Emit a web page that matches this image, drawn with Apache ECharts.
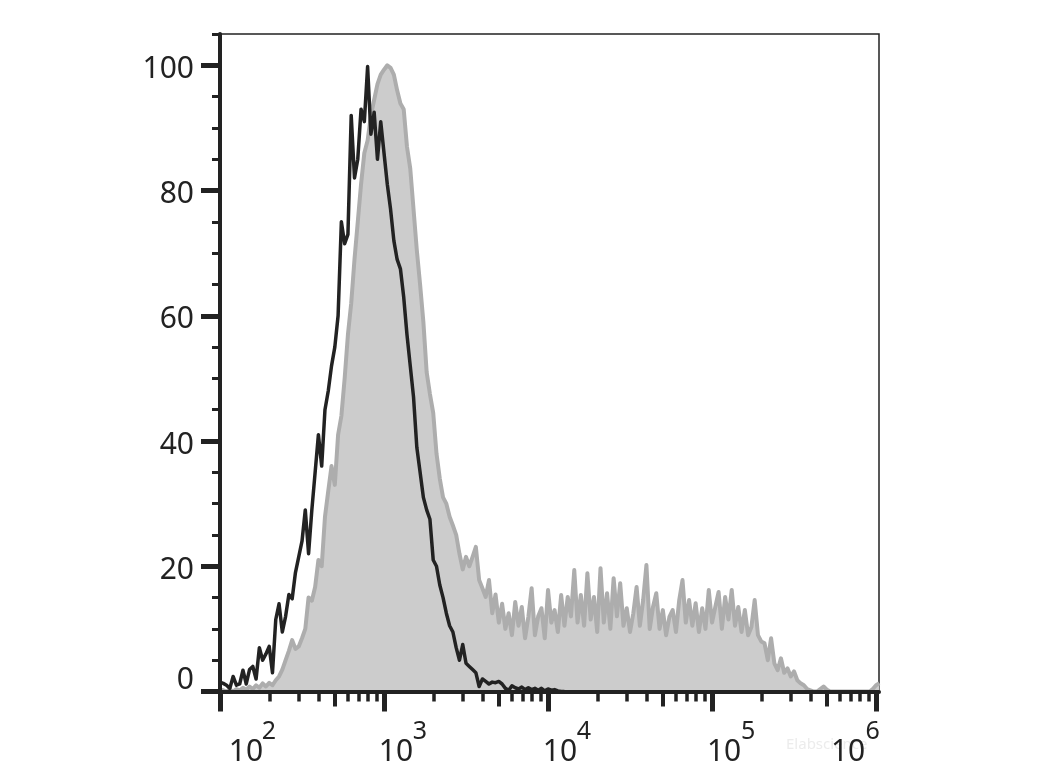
<!DOCTYPE html>
<html>
<head>
<meta charset="utf-8">
<script src="https://cdn.jsdelivr.net/npm/echarts@6/dist/echarts.min.js"></script>
<style>
html,body{margin:0;padding:0;background:#ffffff;}
#c{width:1040px;height:780px;}
</style>
</head>
<body>
<div id="c"></div>
<script>
// ---- data ----
// histogram bins on a log10 fluorescence scale, 0.02 decade wide, starting at 10^2
const binCount = 202;
const binExponents = Array.from({length: binCount}, (_, i) => +(2 + i * 0.02).toFixed(2));

// grey filled histogram (stained sample), % of max
const stainedValues = [
  0.3,0.2,0.0,0.3,0.0,0.4,0.2,0.6,0.3,0.8,
  0.4,1.0,0.6,1.3,0.8,1.4,1.0,1.8,2.4,3.5,
  5.0,6.5,8.2,6.8,7.2,8.5,10.0,15.0,14.5,16.7,
  21.0,20.0,27.9,32.0,36.0,33.0,41.0,44.0,50.0,57.0,
  62.0,69.0,75.0,81.0,86.0,88.0,92.0,94.5,97.0,98.5,
  99.3,100,99.6,98.5,96.0,93.9,93.0,87.0,83.5,77.0,
  70.5,65.0,59.0,51.0,47.5,44.5,38.0,34.0,31.0,30.0,
  27.9,26.5,25.0,22.0,19.5,21.5,20.0,21.5,23.1,17.8,
  16.5,15.1,17.8,12.5,15.5,11.0,14.0,10.0,12.5,9.0,
  14.3,10.5,13.5,8.5,11.9,16.5,9.0,12.0,13.3,8.5,
  16.2,11.0,13.0,9.5,15.4,10.5,15.1,12.0,19.4,11.0,
  15.4,10.5,18.9,11.5,15.1,9.5,19.7,11.0,15.7,10.0,
  18.1,12.0,17.3,10.5,13.3,9.5,12.5,16.7,10.5,14.6,
  20.2,10.0,13.5,15.7,10.0,13.0,9.0,11.9,13.0,9.5,
  14.6,17.8,11.0,14.6,10.5,14.1,9.5,13.3,10.0,16.2,
  11.0,13.5,15.9,10.0,15.1,11.5,16.2,10.5,13.5,9.5,
  13.0,9.0,10.3,14.6,9.0,8.0,7.7,5.0,8.5,4.5,
  3.4,5.3,3.0,3.7,2.4,3.2,1.8,1.3,1.0,0.4,
  0.2,0.0,0.0,0.4,0.8,0.3,0.0,0.0,0.0,0.0,
  0.0,0.0,0.0,0.0,0.0,0.0,0.0,0.0,0.0,0.4,
  1.0,1.3
];

// black outline histogram (control), % of max
const controlValues = [
  1.5,1.3,1.0,0.5,2.4,1.0,1.2,3.4,1.2,3.5,
  4.0,2.0,7.0,5.0,6.0,7.2,3.0,11.5,14.0,9.5,
  12.0,15.5,14.8,19.0,21.5,24.0,29.0,22.0,29.0,35.0,
  41.0,36.0,45.0,48.0,52.0,55.0,60.0,75.0,71.5,73.0,
  92.0,82.0,85.0,93.0,91.0,99.8,89.0,92.5,85.0,91.0,
  86.0,81.0,77.0,72.0,69.0,67.5,63.0,57.0,52.0,47.0,
  39.0,35.0,31.0,29.0,27.5,21.0,20.0,17.0,15.0,12.5,
  10.5,9.5,7.0,5.0,7.5,4.5,4.0,3.5,3.0,0.8,
  2.0,1.6,1.2,1.5,1.4,1.6,1.2,0.5,0.2,0.9,
  0.6,0.4,0.7,0.3,0.6,0.3,0.5,0.2,0.5,0.1,
  0.4,0.2,0.3,0.1,0.0,0.0
];

// axis ticks and labels
const xMajorTicks  = [1e2, 1e3, 1e4, 1e5, 1e6];
const xMediumTicks = [5e2, 5e3, 5e4, 5e5];
const xMinorTicks  = [
  2e2,3e2,4e2,6e2,7e2,8e2,9e2,
  2e3,3e3,4e3,6e3,7e3,8e3,9e3,
  2e4,3e4,4e4,6e4,7e4,8e4,9e4,
  2e5,3e5,4e5,6e5,7e5,8e5,9e5
];
const xLabelBase = '10';
const yMajorTicks = [0, 20, 40, 60, 80, 100];
const yMinorTicks = [5,10,15,25,30,35,45,50,55,65,70,75,85,90,95,105];
const watermarkText = 'Elabscience';

const xMinValue = 100;
const xMaxExponent = 6.018;
const yMaxValue = 105;

// ---- chart ----
const FONT = 'Noto Sans';
const INK = '#222222';

function toPairs(values) {
  return values.map((v, i) => [Math.pow(10, binExponents[i]), v]);
}

function baseAxisX(extra) {
  return Object.assign({
    type: 'log', logBase: 10, gridIndex: 0, position: 'bottom',
    min: xMinValue, max: Math.pow(10, xMaxExponent), z: 6,
    axisLine: {show: false, onZero: false},
    axisTick: {show: false},
    axisLabel: {show: false},
    splitLine: {show: false}, minorTick: {show: false}, minorSplitLine: {show: false}
  }, extra || {});
}

function tickAxisX(values, len, width) {
  return baseAxisX({
    axisTick: {show: true, inside: false, customValues: values, length: len,
               lineStyle: {color: INK, width: width}}
  });
}

function txt(size, padding) {
  return {fontFamily: FONT, color: INK, fontSize: size, lineHeight: size, padding: padding};
}

const option = {
  animation: false,
  backgroundColor: '#ffffff',
  grid: {
    left: 220, top: 34, width: 659, height: 657.5,
    containLabel: false, outerBoundsMode: 'none',
    show: true, borderColor: INK, borderWidth: 1.5, backgroundColor: 'transparent'
  },
  xAxis: [
    // main axis: line, major ticks, "10" part of the labels
    baseAxisX({
      axisLine: {show: true, onZero: false, lineStyle: {color: INK, width: 4}},
      axisTick: {show: true, customValues: xMajorTicks, length: 20, lineStyle: {color: INK, width: 5}},
      axisLabel: {
        show: true, customValues: xMajorTicks, margin: 46,
        align: 'center', verticalAlign: 'top',
        formatter: function (v) {
          const e = Math.round(Math.log10(v));
          const st = e === 2 ? 't2' : (e === 6 ? 't6' : 't');
          return '{' + st + '|' + xLabelBase + '}';
        },
        rich: {
          t:  txt(30, [0, 0, 0, 24]),
          t2: txt(30, [0, 0, 0, 52]),
          t6: txt(30, [0, 56, 0, 0])
        }
      }
    }),
    // exponent (superscript) part of the labels
    baseAxisX({
      axisLabel: {
        show: true, customValues: xMajorTicks, margin: 28,
        align: 'center', verticalAlign: 'top',
        formatter: function (v) {
          const e = Math.round(Math.log10(v));
          const st = e === 2 ? 'e2' : (e === 6 ? 'e6' : 'e');
          return '{' + st + '|' + e + '}';
        },
        rich: {
          e:  txt(25, [0, 0, 0, 72]),
          e2: txt(25, [0, 0, 0, 98]),
          e6: txt(25, [0, 7, 0, 0])
        }
      }
    }),
    tickAxisX(xMediumTicks, 15, 4),
    tickAxisX(xMinorTicks, 10, 3.5)
  ],
  yAxis: [
    {
      type: 'value', gridIndex: 0, position: 'left', min: 0, max: yMaxValue, z: 6,
      axisLine: {show: true, onZero: false, lineStyle: {color: INK, width: 4}},
      axisTick: {show: true, customValues: yMajorTicks, length: 19, lineStyle: {color: INK, width: 5}},
      axisLabel: {
        show: true, customValues: yMajorTicks, margin: 26, align: 'right',
        formatter: function (v) { return v === 0 ? '{z|0}' : '{n|' + v + '}'; },
        rich: {
          n: txt(30, [8, 0, 0, 0]),
          z: txt(30, [0, 0, 22, 0])
        }
      },
      splitLine: {show: false}
    },
    {
      type: 'value', gridIndex: 0, position: 'left', min: 0, max: yMaxValue, z: 6,
      axisLine: {show: false, onZero: false},
      axisTick: {show: true, customValues: yMinorTicks, length: 8, lineStyle: {color: INK, width: 3}},
      axisLabel: {show: false},
      splitLine: {show: false}
    }
  ],
  graphic: [{
    type: 'text', left: 786, top: 737, z: -10, silent: true,
    style: {text: watermarkText, fontFamily: FONT, fontSize: 15, fill: '#ececec'}
  }],
  series: [
    {
      name: 'Stained', type: 'line', xAxisIndex: 0, yAxisIndex: 0,
      data: toPairs(stainedValues), symbol: 'none', showSymbol: false,
      sampling: null, smooth: false, clip: true, z: 2, silent: true,
      lineStyle: {color: '#adadad', width: 4, join: 'round'},
      areaStyle: {color: '#cccccc', opacity: 1}
    },
    {
      name: 'Control', type: 'line', xAxisIndex: 0, yAxisIndex: 0,
      data: toPairs(controlValues), symbol: 'none', showSymbol: false,
      smooth: false, clip: true, z: 3, silent: true,
      lineStyle: {color: INK, width: 3.5, join: 'round'}
    }
  ]
};

const chart = echarts.init(document.getElementById('c'), null, {renderer: 'canvas'});
chart.setOption(option);
</script>
</body>
</html>
